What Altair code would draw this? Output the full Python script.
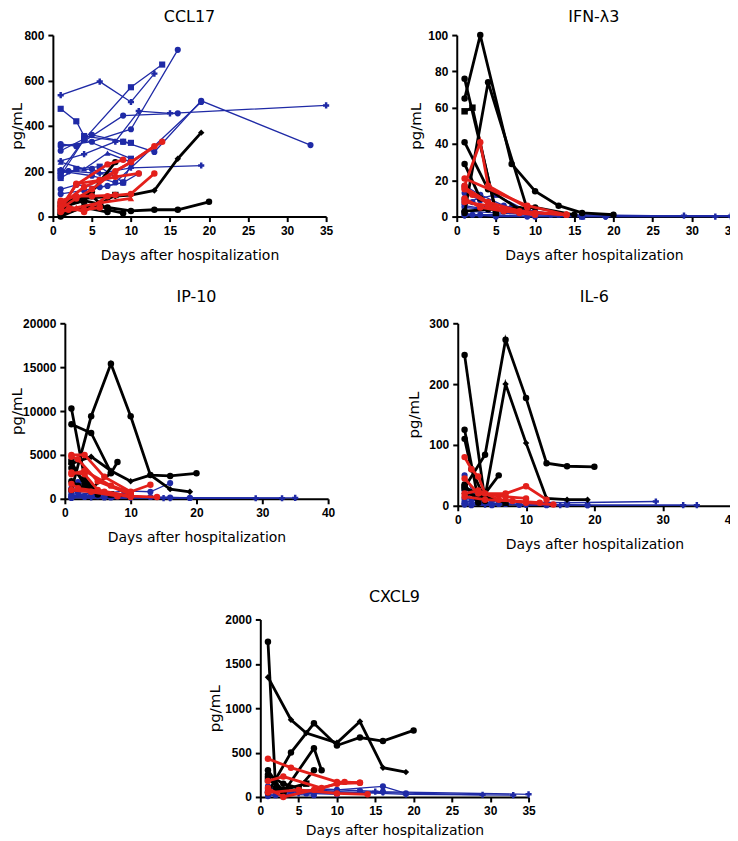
import altair as alt
import pandas as pd

BLACK = "#000000"
RED = "#e3201b"
BLUE = "#1f2aa6"

# ---------------- data: (marker, days, values) per patient ----------------
CCL17_BLACK = [
    ("circle", [1, 4, 7, 10, 13, 16, 20], [0, 45, 40, 25, 30, 30, 65]),
    ("diamond", [1, 4, 8, 10, 13, 16, 19], [50, 80, 90, 95, 115, 255, 370]),
    ("circle", [1, 3, 5, 8], [45, 70, 110, 240]),
    ("circle", [1, 3, 5, 7, 9], [60, 80, 90, 30, 15]),
    ("square", [1, 2, 4, 6, 8], [20, 50, 70, 55, 95]),
    ("circle", [1, 4, 7], [10, 40, 20]),
]
CCL17_RED = [
    ("circle", [1, 3, 5, 8, 10, 14], [35, 80, 120, 200, 240, 330]),
    ("circle", [1, 4, 6, 10, 13], [50, 130, 160, 240, 310]),
    ("circle", [1, 3, 6, 8, 11], [30, 145, 160, 175, 190]),
    ("circle", [1, 4, 7, 10, 13], [60, 20, 90, 100, 190]),
    ("triangle-up", [1, 3, 6, 10], [25, 40, 60, 80]),
    ("circle", [1, 3, 5, 8], [70, 90, 90, 95]),
    ("circle", [1, 2, 4, 6], [20, 30, 30, 40]),
    ("circle", [1, 3, 7, 9], [40, 140, 230, 250]),
]
CCL17_BLUE = [
    ("cross", [1, 6, 10, 13], [535, 595, 505, 630]),
    ("square", [1, 3, 4, 9, 10], [475, 420, 355, 330, 325]),
    ("square", [1, 4, 10, 14], [200, 340, 570, 670]),
    ("circle", [1, 5, 10, 16], [310, 330, 385, 735]),
    ("circle", [1, 3, 9, 16], [320, 310, 445, 455]),
    ("cross", [1, 4, 8, 11, 15, 35], [245, 275, 330, 465, 455, 490]),
    ("circle", [1, 5, 9, 13, 19, 33], [290, 360, 330, 285, 510, 315]),
    ("circle", [1, 5, 8, 19], [200, 180, 150, 505]),
    ("cross", [1, 2, 6, 10, 19], [205, 200, 190, 215, 225]),
    ("triangle-up", [1, 4, 7, 10], [240, 210, 280, 240]),
    ("circle", [1, 3, 6, 9, 11], [120, 140, 130, 150, 190]),
    ("circle", [1, 4, 7, 9, 10], [100, 115, 135, 150, 235]),
    ("square", [1, 3, 6, 9], [170, 210, 220, 150]),
    ("circle", [1, 2, 5, 7], [190, 200, 210, 180]),
    ("square", [1, 4, 10], [180, 340, 255]),
]

IFN_BLACK = [
    ("circle", [1, 3, 7, 10, 13, 16, 20], [65, 100, 29, 14, 6, 2, 1]),
    ("circle", [1, 4, 9], [2, 74, 4]),
    ("square", [1, 2, 5], [58, 60, 2]),
    ("circle", [1, 5], [76, 3]),
    ("circle", [1, 4, 8], [41, 15, 4]),
    ("circle", [1, 3, 6], [29, 10, 3]),
    ("circle", [1, 4, 10, 15], [3, 4, 5, 1]),
]
IFN_RED = [
    ("circle", [1, 3, 4, 9], [17, 41, 17, 5]),
    ("circle", [1, 9, 14], [21, 6, 1]),
    ("circle", [1, 4, 8, 14], [16, 8, 3, 1]),
    ("circle", [1, 2, 5, 10, 14], [15, 12, 5, 2, 1]),
    ("circle", [1, 3, 6, 10], [10, 5, 3, 1]),
    ("circle", [1, 4, 8], [8, 6, 2]),
]
IFN_BLUE = [
    ("circle", [1, 3, 6, 10, 16], [17, 12, 6, 2, 0]),
    ("circle", [1, 2, 4, 8, 12], [10, 8, 5, 2, 1]),
    ("square", [1, 3, 5, 9, 16], [8, 10, 12, 3, 0]),
    ("cross", [1, 4, 6, 10, 15, 35], [5, 4, 3, 2, 1, 0]),
    ("cross", [1, 5, 10, 19, 33], [3, 2, 1, 0, 0]),
    ("circle", [1, 3, 7, 10, 13], [13, 9, 5, 3, 1]),
    ("circle", [1, 2, 5, 9], [2, 1, 1, 0]),
    ("circle", [1, 4, 8, 14], [6, 4, 2, 1]),
    ("circle", [1, 3, 5, 10, 16, 19], [1, 1, 0, 0, 0, 0]),
    ("cross", [1, 16, 29, 35], [0.5, 0.3, 0.5, 0.5]),
]

IP10_BLACK = [
    ("circle", [1, 4, 7, 10, 13, 16, 20], [1000, 9400, 15400, 9400, 2700, 2600, 2900]),
    ("diamond", [1, 4, 7, 10, 13, 16, 19], [4000, 4800, 3200, 2000, 2700, 1100, 800]),
    ("circle", [1, 4, 7], [8500, 7500, 3000]),
    ("circle", [1, 3, 5], [10300, 2400, 500]),
    ("circle", [1, 4, 7, 8], [3500, 1200, 2900, 4200]),
    ("square", [1, 3, 7, 10], [4200, 1500, 500, 300]),
    ("circle", [1, 2, 5, 7], [2000, 1500, 800, 500]),
]
IP10_RED = [
    ("circle", [1, 3, 6, 10, 13], [5000, 5000, 2500, 800, 1600]),
    ("circle", [1, 2, 5, 10], [4800, 4500, 2000, 500]),
    ("circle", [1, 3, 7, 10], [2800, 3200, 1500, 700]),
    ("circle", [1, 3, 5, 10, 14], [3000, 2800, 1000, 300, 200]),
    ("circle", [1, 2, 6, 10], [1700, 1200, 800, 200]),
    ("circle", [1, 4, 8], [1000, 800, 300]),
]
IP10_BLUE = [
    ("circle", [1, 4, 9, 13, 16], [600, 400, 900, 800, 1800]),
    ("circle", [1, 2, 5, 9, 13], [1200, 1900, 700, 400, 200]),
    ("circle", [1, 3, 6, 10, 16, 19], [300, 200, 150, 200, 150, 100]),
    ("cross", [1, 4, 10, 15, 35], [200, 150, 100, 80, 100]),
    ("cross", [1, 5, 10, 19, 33], [400, 300, 200, 120, 60]),
    ("cross", [1, 16, 29], [100, 80, 60]),
    ("circle", [1, 2, 6, 8], [900, 700, 400, 300]),
    ("circle", [1, 3, 7], [100, 300, 150]),
]

IL6_BLACK = [
    ("circle", [1, 4, 7, 10, 13, 16, 20], [30, 84, 273, 177, 70, 65, 64]),
    ("diamond", [1, 4, 7, 10, 13, 16, 19], [20, 15, 200, 103, 12, 10, 10]),
    ("circle", [1, 4], [248, 8]),
    ("circle", [1, 3], [125, 10]),
    ("circle", [1, 2, 4], [110, 60, 10]),
    ("circle", [1, 3, 6], [35, 5, 50]),
    ("square", [1, 4, 7], [30, 15, 5]),
]
IL6_RED = [
    ("circle", [1, 2, 3, 4, 7, 10, 13], [80, 60, 48, 20, 20, 32, 10]),
    ("circle", [1, 3, 7, 10], [45, 20, 15, 12]),
    ("circle", [1, 3, 6, 10, 14], [20, 25, 10, 5, 2]),
    ("circle", [1, 4, 8, 12], [15, 10, 8, 5]),
]
IL6_BLUE = [
    ("circle", [1, 3, 9, 16, 19], [50, 5, 2, 2, 1]),
    ("cross", [1, 5, 10, 16, 29], [12, 8, 6, 5, 7]),
    ("cross", [1, 4, 10, 15, 35], [3, 2, 2, 1, 1]),
    ("cross", [1, 5, 10, 19, 33], [5, 3, 2, 1, 1]),
    ("circle", [1, 2, 4, 7, 10], [25, 10, 5, 3, 2]),
    ("circle", [1, 3, 6, 9, 13], [8, 5, 3, 2, 1]),
    ("circle", [1, 2, 5], [2, 1, 1]),
]

CXCL9_BLACK = [
    ("circle", [1, 4, 7, 10, 13, 16, 20], [50, 500, 830, 580, 670, 630, 750]),
    ("diamond", [1, 4, 6, 10, 13, 16, 19], [1350, 870, 720, 610, 850, 330, 280]),
    ("circle", [1, 2, 3], [1750, 100, 50]),
    ("circle", [1, 3, 7, 8], [300, 50, 550, 300]),
    ("circle", [1, 3, 5, 7], [250, 150, 100, 300]),
    ("square", [1, 3, 6], [200, 80, 150]),
]
CXCL9_RED = [
    ("circle", [1, 4, 10, 13], [430, 330, 170, 160]),
    ("circle", [1, 3, 8, 10, 13], [180, 230, 100, 150, 160]),
    ("circle", [1, 3, 7, 11], [100, 0, 80, 170]),
    ("circle", [1, 5, 10, 14], [50, 80, 40, 30]),
]
CXCL9_BLUE = [
    ("circle", [1, 5, 10, 16, 19], [100, 60, 80, 120, 40]),
    ("cross", [1, 4, 10, 15, 35], [80, 50, 40, 60, 30]),
    ("cross", [1, 5, 10, 19, 33], [50, 40, 60, 30, 20]),
    ("cross", [1, 16, 29], [60, 50, 25]),
    ("circle", [1, 3, 8, 13, 16], [120, 60, 90, 70, 60]),
    ("circle", [1, 2, 6, 10], [30, 20, 40, 30]),
    ("circle", [1, 3, 7], [10, 30, 20]),
]

AXIS_FONT = "Liberation Sans"
TITLE_FONT = "DejaVu Sans"


def frame(series, group):
    rows = []
    for i, (shape, days, vals) in enumerate(series):
        for d, v in zip(days, vals):
            rows.append({"sid": f"{group}{i}", "shape": shape, "day": d, "value": v})
    return pd.DataFrame(rows)


def panel(title, black, red, blue, xmax, xticks, ymax, yticks, w, h, toff, yext,
          lead=0, xtp=12):
    # lead: empty room to the left of the plot area inside this panel's group
    xenc = alt.X(
        "day:Q",
        scale=alt.Scale(domain=[0, xmax], range=[lead, lead + w], nice=False, zero=True),
        axis=alt.Axis(values=xticks, title="Days after hospitalization", format="d",
                      labelFlush=False, labelPadding=4, titlePadding=xtp),
    )
    yax = dict(values=yticks, title="pg/mL", format="d", labelPadding=4,
               titlePadding=0, minExtent=yext, maxExtent=yext)
    if lead:
        yax["offset"] = -lead
    yenc = alt.Y(
        "value:Q",
        scale=alt.Scale(domain=[0, ymax], nice=False),
        axis=alt.Axis(**yax),
    )
    layers = []
    for series, grp, col, sw, sz in [
        (blue, "b", BLUE, 1.3, 38),
        (black, "k", BLACK, 2.8, 42),
        (red, "r", RED, 2.8, 42),
    ]:
        df = frame(series, grp)
        base = alt.Chart(df)
        layers.append(
            base.mark_line(color=col, strokeWidth=sw).encode(x=xenc, y=yenc, detail="sid:N")
        )
        layers.append(
            base.mark_point(filled=True, opacity=1, color=col, size=sz).encode(
                x=xenc, y=yenc, shape=alt.Shape("shape:N", scale=None)
            )
        )
    return alt.layer(*layers).properties(
        width=lead + w, height=h,
        title=alt.TitleParams(title, offset=toff, fontSize=16, font=TITLE_FONT,
                              fontWeight="normal", anchor="middle", frame="group",
                              dx=lead / 2),
    )


p1 = panel("CCL17", CCL17_BLACK, CCL17_RED, CCL17_BLUE, 35, list(range(0, 36, 5)),
           800, [0, 200, 400, 600, 800], 274, 182, 4, 28)
p2 = panel("IFN-λ3", IFN_BLACK, IFN_RED, IFN_BLUE, 35, list(range(0, 36, 5)),
           100, [0, 20, 40, 60, 80, 100], 275, 182, 4, 33)
p3 = panel("IP-10", IP10_BLACK, IP10_RED, IP10_BLUE, 40, [0, 10, 20, 30, 40],
           20000, [0, 5000, 10000, 15000, 20000], 264, 176, 12, 40, lead=12)
p4 = panel("IL-6", IL6_BLACK, IL6_RED, IL6_BLUE, 40, [0, 10, 20, 30, 40],
           300, [0, 100, 200, 300], 274, 183, 12, 36)
p5 = panel("CXCL9", CXCL9_BLACK, CXCL9_RED, CXCL9_BLUE, 35, list(range(0, 36, 5)),
           2000, [0, 500, 1000, 1500, 2000], 269, 178, 9, 38, lead=208, xtp=7)

row1 = alt.hconcat(p1, p2, spacing=131, bounds="flush")
row2 = alt.hconcat(p3, p4, spacing=130, bounds="flush")
upper = alt.concat(row1, row2, columns=1, align="none", bounds="full", spacing=27)
chart = alt.concat(
    upper, p5, columns=1, align="none", bounds="full", spacing=37,
).properties(padding={"left": 2, "top": 0, "right": -8, "bottom": 0}).configure_view(
    stroke=None
).configure_axis(
    grid=False, domainColor="black", domainWidth=2, tickColor="black", tickWidth=2,
    tickSize=5, labelFont=AXIS_FONT, labelFontWeight="bold", labelFontSize=12,
    labelColor="black", titleFont=TITLE_FONT, titleFontWeight="normal",
    titleFontSize=14, titleColor="black",
).configure_axisY(titleFontSize=15)

chart.save("out.html", embed_options={"renderer": "svg", "actions": False})
